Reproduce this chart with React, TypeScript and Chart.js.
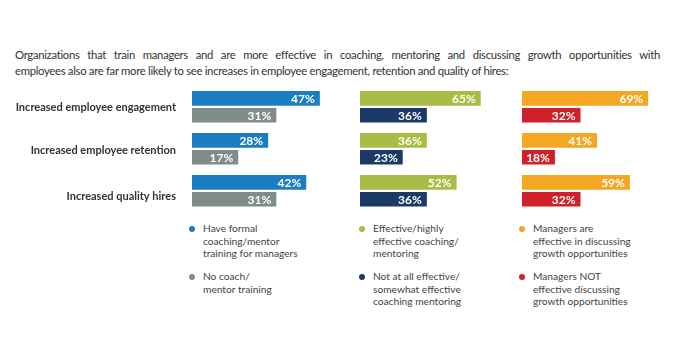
import React, { useEffect, useRef } from "react";
import { Chart, registerables } from "chart.js";
Chart.register(...registerables);

const categories = ["Increased employee engagement", "Increased employee retention", "Increased quality hires"];
const trainingYes = [47, 28, 42];
const trainingNo = [31, 17, 31];
const coachingEffective = [65, 36, 52];
const coachingNotEffective = [36, 23, 36];
const growthEffective = [69, 41, 59];
const growthNotEffective = [32, 18, 32];

const COLORS = {
  blue: "#1b7ec2",
  gray: "#7f8c8a",
  green: "#a8bd45",
  navy: "#1b3b66",
  orange: "#f5a623",
  red: "#cf2129",
};

const FONT = "Lato, 'Open Sans', sans-serif";
const LABEL_NUDGE = [0, 1, 5];

const labelPlugin = {
  id: "barValueLabels",
  afterDatasetsDraw(chart: any) {
    const ctx = chart.ctx;
    ctx.save();
    ctx.font = `bold 12px ${FONT}`;
    ctx.fillStyle = "#ffffff";
    ctx.textAlign = "right";
    ctx.textBaseline = "middle";
    chart.data.datasets.forEach((ds: any, di: number) => {
      const meta = chart.getDatasetMeta(di);
      meta.data.forEach((el: any, i: number) => {
        ctx.fillText(ds.data[i] + "%", el.x - 5, el.y + 0.5);
      });
    });
    ctx.restore();
  },
};

const categoryLabelPlugin = {
  id: "categoryLabels",
  afterDraw(chart: any) {
    if (!chart.options.plugins.categoryLabels?.show) return;
    const ctx = chart.ctx;
    const y = chart.scales.y;
    ctx.save();
    ctx.font = `bold 11px ${FONT}`;
    ctx.fillStyle = "#333333";
    ctx.textAlign = "right";
    ctx.textBaseline = "middle";
    chart.data.labels.forEach((l: string, i: number) => {
      ctx.fillText(l, chart.chartArea.left - 16, y.getPixelForValue(i) + 0.5 + LABEL_NUDGE[i]);
    });
    ctx.restore();
  },
};

function BarPanel(props: {
  a: number[];
  b: number[];
  ca: string;
  cb: string;
  max: number;
  showLabels: boolean;
  left: number;
  width: number;
  padLeft: number;
}) {
  const ref = useRef<HTMLCanvasElement | null>(null);
  useEffect(() => {
    if (!ref.current) return;
    const chart = new Chart(ref.current, {
      type: "bar",
      data: {
        labels: categories,
        datasets: [
          { data: props.a, backgroundColor: props.ca, categoryPercentage: 0.8, barPercentage: 0.87 },
          { data: props.b, backgroundColor: props.cb, categoryPercentage: 0.8, barPercentage: 0.87 },
        ],
      },
      options: {
        indexAxis: "y",
        animation: false,
        responsive: false,
        maintainAspectRatio: false,
        layout: { padding: { top: 5.8, bottom: 8.2, left: props.padLeft, right: 0 } },
        plugins: {
          legend: { display: false },
          tooltip: { enabled: false },
          categoryLabels: { show: props.showLabels },
        },
        scales: {
          x: { display: false, min: 0, max: props.max, grid: { display: false } },
          y: { display: false, grid: { display: false } },
        },
      },
      plugins: [labelPlugin, categoryLabelPlugin],
    } as any);
    return () => chart.destroy();
  }, []);
  return (
    <canvas
      ref={ref}
      width={props.width}
      height={140}
      style={{ position: "absolute", left: props.left, top: 80, width: props.width, height: 140 }}
    />
  );
}

const legendCols = [
  { x: 188, items: [
    { color: COLORS.blue, lines: ["Have formal", "coaching/mentor", "training for managers"], y: 222 },
    { color: COLORS.gray, lines: ["No coach/", "mentor training"], y: 270 },
  ] },
  { x: 358, items: [
    { color: COLORS.green, lines: ["Effective/highly", "effective coaching/", "mentoring"], y: 222 },
    { color: COLORS.navy, lines: ["Not at all effective/", "somewhat effective", "coaching mentoring"], y: 270 },
  ] },
  { x: 518, items: [
    { color: COLORS.orange, lines: ["Managers are", "effective in discussing", "growth opportunities"], y: 222 },
    { color: COLORS.red, lines: ["Managers NOT", "effective discussing", "growth opportunities"], y: 270 },
  ] },
];

export default function App() {
  return (
    <div style={{ position: "fixed", left: 0, top: 0, width: 674, height: 354, background: "#fff", overflow: "hidden" }}>
      <div style={{ position: "absolute", left: 15, top: 47, width: 645, fontFamily: FONT, fontSize: 11.3, letterSpacing: -0.3, color: "#333", lineHeight: "16px" }}>
        <div style={{ textAlign: "justify", textAlignLast: "justify" as any }}>
          Organizations that train managers and are more effective in coaching, mentoring and discussing growth opportunities with
        </div>
        <div style={{ whiteSpace: "nowrap" }}>
          employees also are far more likely to see increases in employee engagement, retention and quality of hires:
        </div>
      </div>
      <BarPanel a={trainingYes} b={trainingNo} ca={COLORS.blue} cb={COLORS.gray} max={50} showLabels={true} left={0} width={328} padLeft={192} />
      <BarPanel a={coachingEffective} b={coachingNotEffective} ca={COLORS.green} cb={COLORS.navy} max={70} showLabels={false} left={360} width={130} padLeft={0} />
      <BarPanel a={growthEffective} b={growthNotEffective} ca={COLORS.orange} cb={COLORS.red} max={70} showLabels={false} left={522} width={128} padLeft={0} />
      {legendCols.map((col, ci) =>
        col.items.map((it, ii) => (
          <div key={ci + "-" + ii} style={{ position: "absolute", left: col.x, top: it.y, fontFamily: FONT, fontSize: 10.2, color: "#444", lineHeight: "12.5px" }}>
            <span style={{ position: "absolute", left: 1, top: 3.5, width: 6, height: 6, borderRadius: 3, background: it.color }} />
            <div style={{ marginLeft: 15, whiteSpace: "nowrap" }}>
              {it.lines.map((l, li) => (
                <div key={li}>{l}</div>
              ))}
            </div>
          </div>
        ))
      )}
    </div>
  );
}
